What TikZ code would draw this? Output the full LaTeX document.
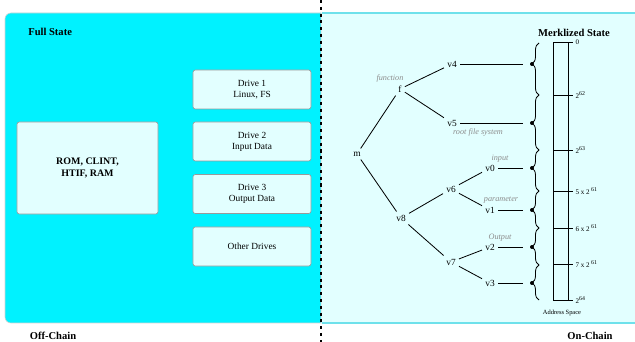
\documentclass[tikz,border=0pt]{standalone}
\usepackage{fontspec}
\setmainfont{Liberation Serif}
\usetikzlibrary{decorations.pathreplacing}

\begin{document}
\begin{tikzpicture}[x=0.03cm, y=-0.03cm, font=\fontsize{8}{9.5}\selectfont, line width=0.7pt]
	\definecolor{fullcyan}{RGB}{0, 242, 255}
	\definecolor{chaincyan}{RGB}{226, 255, 255}
	\definecolor{edgecyan}{RGB}{110, 225, 235}
	\definecolor{notegray}{RGB}{140, 140, 140}
	\tikzset{
		drivebox/.style={draw=gray!80, line width=0.5pt, fill=chaincyan, rounded corners=2pt, minimum width=3.54cm, minimum height=1.17cm, align=center},
		vert/.style={inner sep=2.5pt},
		note/.style={text=notegray, font=\fontsize{7}{8}\selectfont\itshape},
		addr/.style={anchor=west, font=\fontsize{6}{7}\selectfont, inner sep=1pt},
		title/.style={font=\fontsize{9}{10}\selectfont\bfseries}
	}
	\useasboundingbox (0,0) rectangle (635,342);
	% panels
	\filldraw[fill=fullcyan, draw=gray!35, line width=0.5pt] (321,13) [rounded corners=5pt] -- (5,13) -- (5,323) [sharp corners] -- (321,323) -- cycle;
	\fill[chaincyan] (322,13) rectangle (635,323);
	\draw[edgecyan, line width=1pt] (322,13) -- (635,13);
	\draw[edgecyan, line width=1pt] (322,323) -- (635,323);
	\draw[line width=1.5pt, dash pattern=on 2.6pt off 3.2pt] (321,0) -- (321,342);
	\node[title, anchor=west] (full) at (24,32) {Full State};
	\node[title] (off) at (53,336) {Off-Chain};
	\node[title] (on) at (590,336) {On-Chain};
	\node[title] (merk) at (574,33) {Merklized State};
	% off-chain boxes
	\node[drivebox, minimum width=4.23cm, minimum height=2.76cm, font=\fontsize{8.5}{11}\selectfont\bfseries] (rom) at (87.5,168) {ROM, CLINT,\\HTIF, RAM};
	\node[drivebox] (d1) at (252,89.5) {Drive 1\\Linux, FS};
	\node[drivebox] (d2) at (252,141.5) {Drive 2\\Input Data};
	\node[drivebox] (d3) at (252,194) {Drive 3\\Output Data};
	\node[drivebox] (d4) at (252,246.5) {Other Drives};
	% tree
	\node[vert] (m) at (357,154) {m};
	\node[vert] (f) at (400,89) {f};
	\node[vert] (v8) at (401,218) {v8};
	\node[vert] (v4) at (452,64) {v4};
	\node[vert] (v5) at (452,123) {v5};
	\node[vert] (v6) at (451,189) {v6};
	\node[vert] (v7) at (451,262) {v7};
	\node[vert] (v0) at (490,168) {v0};
	\node[vert] (v1) at (490,210) {v1};
	\node[vert] (v2) at (490,247) {v2};
	\node[vert] (v3) at (490,283) {v3};
	\node[note] (fn) at (390,78) {function};
	\node[note] (rfs) at (478,132) {root file system};
	\node[note] (in) at (500,159) {input};
	\node[note] (par) at (501,200) {parameter};
	\node[note] (out) at (500,238) {Output};
	\draw (m) -- (f);
	\draw (m) -- (v8);
	\draw (f) -- (v4);
	\draw (f) -- (v5);
	\draw (v8) -- (v6);
	\draw (v8) -- (v7);
	\draw (v6) -- (v0);
	\draw (v6) -- (v1);
	\draw (v7) -- (v2);
	\draw (v7) -- (v3);
	% leaves to braces
	\foreach \v/\y in {v4/64, v5/123, v0/168, v1/210, v2/247, v3/283} {
		\coordinate (t\v) at (523,\y);
		\draw (\v) -- (t\v);
		\fill (532,\y) circle (1.7pt);
	}
	\foreach \a/\b/\s in {43/95/0.6, 95/150/0.49, 150/191/0.56, 191/228/0.49, 228/265/0.49, 265/300/0.49}
		\draw[decorate, decoration={brace, amplitude=6pt, aspect=\s}] (539,\b) -- (539,\a);
	% address space
	\draw[line width=0.5pt] (553,42) rectangle (568,300);
	\foreach \y/\t in {42/0, 95/2\textsuperscript{62}, 150/2\textsuperscript{63}, 191/5 x 2\textsuperscript{ 61}, 228/6 x 2\textsuperscript{ 61}, 264/7 x 2\textsuperscript{ 61}, 300/2\textsuperscript{64}} {
		\draw (553,\y) -- (573,\y);
		\node[addr] at (574,\y) {\t};
	}
	\node[font=\fontsize{5.5}{6}\selectfont] (addrsp) at (562,313) {Address Space};
\end{tikzpicture}
\end{document}
